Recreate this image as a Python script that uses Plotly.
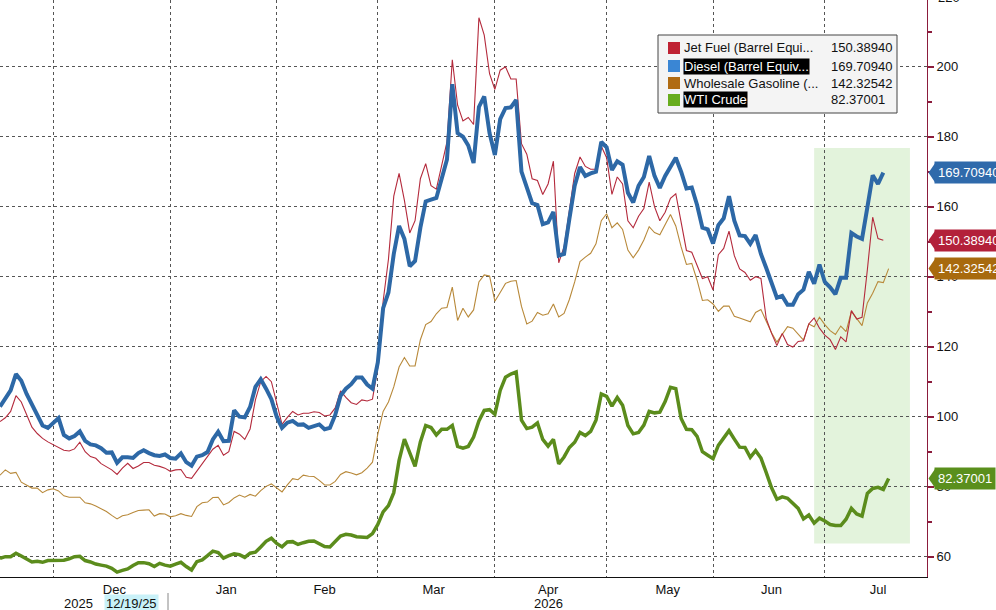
import pandas as pd
import plotly.graph_objects as go

# US market holidays skipped by the daily series
holidays = ['2025-11-27', '2025-12-25', '2026-01-01', '2026-01-19', '2026-02-16',
            '2026-04-03', '2026-05-25', '2026-06-19', '2026-07-03']

# Daily closes, Nov 14 2025 onwards (trading days)
jet_fuel = [
    98.6, 99.7, 101.5, 106.0, 104.2, 100.7, 97.0, 95.2, 93.8, 92.8,
    92.0, 91.2, 90.4, 90.2, 90.8, 92.7, 90.0, 88.6, 88.1, 86.6,
    85.8, 84.8, 83.5, 85.3, 86.7, 85.2, 85.9, 86.9, 86.9, 86.1,
    85.8, 85.3, 84.4, 84.8, 84.9, 82.7, 82.4, 84.5, 86.6, 88.5,
    90.7, 91.8, 89.0, 90.0, 95.8, 95.0, 93.5, 96.5, 104.8, 110.0,
    111.5, 110.0, 103.5, 97.8, 99.8, 101.5, 100.5, 101.0, 101.0, 101.4,
    101.2, 100.2, 100.5, 102.5, 107.4, 105.5, 104.0, 103.5, 104.8, 104.5,
    105.0, 114.0, 133.0, 145.0, 163.0, 169.5, 161.8, 152.5, 156.0, 168.0,
    172.3, 166.0, 165.0, 172.0, 178.5, 202.0, 189.0, 184.5, 185.5, 183.5,
    214.0, 209.0, 198.0, 193.5, 199.0, 200.0, 196.5, 196.5, 178.0, 175.0,
    168.0, 167.5, 163.5, 166.5, 173.0, 144.0, 148.5, 159.0, 169.5, 174.2,
    171.5, 170.7, 170.7, 177.3, 174.0, 163.5, 168.5, 166.5, 156.0, 154.0,
    157.3, 159.5, 167.0, 160.0, 156.0, 158.4, 162.4, 163.7, 155.5, 147.5,
    147.0, 143.0, 139.5, 140.0, 136.2, 146.3, 148.1, 153.0, 146.0, 142.2,
    141.2, 139.0, 140.0, 139.5, 128.0, 123.8, 120.3, 123.8, 120.6, 119.9,
    121.5, 121.7, 126.5, 128.2, 125.3, 123.3, 122.0, 119.2, 122.8, 121.4,
    130.3, 127.9, 128.4, 142.0, 157.0, 150.9, 150.3894,
]

diesel = [
    102.9, 105.0, 107.5, 112.2, 110.3, 106.5, 103.3, 100.5, 97.5, 96.8,
    98.3, 99.6, 94.8, 93.8, 94.5, 95.8, 93.1, 92.1, 91.8, 91.0,
    89.7, 89.8, 86.8, 88.4, 88.4, 88.2, 89.6, 90.4, 89.6, 89.0,
    88.8, 89.2, 88.2, 88.0, 89.5, 87.0, 86.0, 88.6, 89.0, 89.9,
    93.5, 95.7, 93.0, 93.1, 101.8, 100.0, 99.8, 102.8, 108.5, 110.7,
    108.0, 105.0, 100.0, 96.8, 98.3, 98.8, 97.7, 97.8, 96.8, 97.2,
    97.8, 96.4, 96.8, 100.5, 106.0, 108.0, 109.3, 111.2, 111.2, 109.2,
    108.0, 115.5, 131.0, 135.5, 146.5, 154.5, 150.8, 143.0, 144.5, 154.0,
    161.5, 162.0, 162.5, 168.0, 173.5, 195.0, 181.0, 180.0, 177.5, 172.5,
    188.5, 191.5, 181.0, 174.8, 185.0, 188.2, 188.4, 190.5, 170.0, 165.5,
    161.0, 160.5, 155.0, 155.5, 158.5, 146.0, 146.5, 156.5, 166.0, 171.3,
    168.8, 169.5, 170.0, 178.5, 177.0, 170.5, 173.0, 172.0, 164.0, 161.2,
    166.0, 168.5, 174.5, 168.8, 165.4, 168.8, 171.6, 174.0, 170.0, 165.2,
    165.5, 160.5, 154.0, 153.5, 149.5, 154.7, 156.7, 163.0, 156.0, 151.8,
    151.6, 149.4, 151.9, 146.5, 142.5, 138.0, 134.0, 134.5, 132.0, 132.0,
    135.0, 136.3, 141.4, 138.0, 143.5, 138.5, 137.0, 135.0, 139.7, 139.7,
    152.5, 151.5, 150.8, 159.8, 169.0, 166.5, 169.7094,
]

gasoline = [
    83.3, 84.8, 83.8, 84.1, 81.3, 80.5, 79.6, 79.6, 78.3, 79.1,
    79.4, 78.8, 77.4, 77.0, 77.0, 77.0, 75.4, 75.1, 74.5, 73.7,
    72.9, 71.8, 70.8, 71.7, 72.0, 72.6, 73.2, 73.3, 73.4, 71.6,
    72.3, 72.2, 71.4, 71.7, 72.3, 71.8, 71.5, 74.3, 75.4, 75.6,
    76.9, 77.0, 74.8, 75.5, 76.8, 77.6, 77.0, 77.8, 77.3, 78.9,
    80.1, 80.8, 79.7, 78.5, 80.5, 82.3, 82.0, 83.3, 83.0, 82.9,
    81.8, 80.5, 80.5, 81.5, 83.5, 84.3, 83.9, 83.4, 84.0, 85.3,
    87.0, 95.0, 101.5, 104.2, 108.5, 114.2, 116.9, 114.5, 114.5, 122.0,
    126.3, 127.2, 129.4, 131.0, 131.2, 137.0, 127.5, 131.0, 128.5, 130.5,
    138.5, 140.5, 140.2, 133.0, 135.5, 138.1, 138.7, 138.9, 131.5, 126.5,
    127.3, 129.8, 129.0, 129.4, 132.2, 128.5, 129.5, 133.5, 138.5, 144.3,
    145.6, 146.7, 149.4, 156.0, 158.0, 154.0, 155.4, 153.5, 147.6, 145.4,
    147.6, 150.5, 154.3, 152.6, 152.0, 154.8, 157.8, 154.5, 148.5, 143.5,
    143.8, 139.0, 133.2, 133.4, 132.2, 130.1, 131.6, 131.6, 128.7, 128.2,
    127.7, 127.1, 129.8, 130.6, 127.3, 124.0, 121.3, 123.5, 125.7, 125.3,
    123.6, 121.9, 126.5, 125.7, 128.4, 126.3, 124.6, 123.5, 125.9, 124.3,
    130.1, 128.0, 126.0, 132.5, 135.3, 138.6, 138.3, 142.32542,
]

wti = [
    59.5, 60.0, 60.0, 61.0, 60.2, 59.4, 58.5, 58.7, 58.4, 58.9,
    59.0, 59.1, 59.0, 59.4, 60.0, 60.1, 58.9, 58.5, 57.9, 57.6,
    57.3, 56.7, 55.6, 56.1, 56.5, 57.5, 58.3, 58.3, 58.0, 57.2,
    58.1, 57.6, 57.3, 57.9, 58.4, 57.2, 56.2, 58.6, 59.1, 60.3,
    61.6, 61.2, 59.6, 60.3, 60.8, 60.6, 59.8, 61.0, 61.3, 62.8,
    64.4, 65.3, 63.8, 62.8, 64.2, 64.3, 63.5, 64.0, 64.4, 64.5,
    63.7, 62.9, 62.8, 64.2, 65.9, 66.4, 66.2, 65.7, 65.5, 65.5,
    66.6, 69.2, 72.8, 74.6, 78.3, 87.5, 93.6, 90.0, 85.8, 92.8,
    97.5, 96.9, 94.8, 96.4, 96.4, 97.5, 91.5, 91.0, 91.5, 94.2,
    98.8, 101.8, 102.0, 100.7, 107.5, 111.3, 112.2, 112.8, 99.0, 96.6,
    97.0, 98.2, 93.5, 91.6, 93.5, 86.5, 88.5, 91.2, 92.7, 95.5,
    94.6, 95.8, 99.0, 106.5, 105.8, 103.0, 105.5, 103.3, 97.5, 95.1,
    95.5, 97.6, 101.5, 101.1, 101.3, 104.3, 108.4, 108.0, 99.5, 96.4,
    96.3, 94.4, 90.0, 89.0, 88.0, 91.8, 93.8, 96.0, 93.6, 91.3,
    91.2, 88.4, 90.3, 88.2, 84.0, 79.7, 76.4, 77.1, 76.7, 75.1,
    73.8, 70.8, 71.9, 69.6, 71.0, 70.2, 69.2, 68.9, 68.9, 70.7,
    73.8, 72.2, 71.6, 78.1, 79.5, 79.8, 79.2, 82.37001,
]

names = ['Jet Fuel (Barrel Equi...', 'Diesel (Barrel Equiv...',
         'Wholesale Gasoline (...', 'WTI Crude']
last_labels = ['150.38940', '169.70940', '142.32542', '82.37001']
series = [jet_fuel, diesel, gasoline, wti]

line_colors = ['#b42a3c', '#2d68a6', '#b8893a', '#5b8c1c']
line_widths = [1.1, 4, 1.1, 3.5]
swatch_colors = ['#bf2233', '#3a86d4', '#b06b12', '#68ad1d']
tag_colors = ['#b3213a', '#2f6aab', '#a86a0e', '#5a8f1c']

font = 'Liberation Sans'
W, H = 996, 610
L, R, T, B = 0, 69, 0, 33
pw, ph = W - L - R, H - T - B


def px(x):
    return x / pw


def py(y):
    return 1 - y / ph


fig = go.Figure()

# Draw thin lines first, thick ones on top like the original
for k in [2, 0, 3, 1]:
    dates = pd.bdate_range('2025-11-14', periods=len(series[k]), freq='C', holidays=holidays)
    fig.add_trace(go.Scatter(
        x=dates, y=series[k], mode='lines', name=names[k],
        line=dict(color=line_colors[k], width=line_widths[k]),
        showlegend=False,
    ))

shapes = []
# highlight window
shapes.append(dict(type='rect', xref='x', yref='y', x0='2026-06-29', x1='2026-07-24',
                   y0=63.8, y1=176.8, fillcolor='#e3f3dc', line=dict(width=0), layer='below'))

# legend box
shapes.append(dict(type='rect', xref='paper', yref='paper', x0=px(658), x1=px(897),
                   y0=py(113), y1=py(35), fillcolor='#f4f4f4',
                   line=dict(color='#444', width=1)))

annotations = []
rows = [48, 66, 83, 100]
for k in range(4):
    yc = py(rows[k])
    shapes.append(dict(type='rect', xref='paper', yref='paper', x0=px(668), x1=px(680),
                       y0=yc - 6 / ph, y1=yc + 6 / ph, fillcolor=swatch_colors[k],
                       line=dict(width=0)))
    hl = k in (1, 3)
    annotations.append(dict(xref='paper', yref='paper', x=px(683), y=yc, xanchor='left',
                            yanchor='middle', text=names[k], showarrow=False,
                            bgcolor='black' if hl else 'rgba(0,0,0,0)', borderpad=0,
                            font=dict(family=font, size=13, color='white' if hl else '#111')))
    annotations.append(dict(xref='paper', yref='paper', x=px(829), y=yc, xanchor='left',
                            yanchor='middle', text=last_labels[k], showarrow=False,
                            font=dict(family=font, size=13, color='#111')))
    # value tag on the axis, with a small pointer towards the axis
    v = series[k][-1]
    annotations.append(dict(xref='paper', yref='y', x=1, y=v, xanchor='left',
                            yanchor='middle', xshift=7, text=last_labels[k], showarrow=False,
                            bgcolor=tag_colors[k], borderpad=3,
                            font=dict(family=font, size=13, color='white')))
    x_tip, x_base = 1 + 1.5 / pw, 1 + 8 / pw
    shapes.append(dict(type='path', xref='paper', yref='y',
                       path=f'M {x_tip} {v} L {x_base} {v + 2.7} L {x_base} {v - 2.7} Z',
                       fillcolor=tag_colors[k], line=dict(width=0)))

# year row under the month labels
for txt, xc, bg in [('2025', 78, None), ('12/19/25', 131, '#c9f1f8'), ('2026', 548, None)]:
    annotations.append(dict(xref='paper', yref='paper', x=px(xc), y=0, xanchor='center',
                            yanchor='top', yshift=-17, text=txt, showarrow=False,
                            bgcolor=bg or 'rgba(0,0,0,0)', borderpad=1,
                            font=dict(family=font, size=13, color='#111')))
# top tick label, half cut by the page edge
annotations.append(dict(xref='paper', yref='paper', x=1, y=py(-3), xanchor='left',
                        yanchor='middle', xshift=9, text='220', showarrow=False,
                        font=dict(family=font, size=13, color='#111')))
shapes.append(dict(type='line', xref='paper', yref='paper', x0=px(168), x1=px(168),
                   y0=-(593 - ph) / ph, y1=-0.07, line=dict(color='#888', width=1)))

fig.update_layout(
    width=W, height=H,
    margin=dict(l=L, r=R, t=T, b=B),
    plot_bgcolor='white', paper_bgcolor='white',
    font=dict(family=font, size=13, color='#111'),
    shapes=shapes, annotations=annotations,
    hovermode='x unified',
)

fig.update_xaxes(
    range=['2025-11-14', '2026-07-29 05:00'],
    rangebreaks=[dict(bounds=['sat', 'mon']), dict(values=holidays)],
    dtick='M1', tickformat='%b', ticklabelmode='period',
    ticks='', tickfont=dict(size=13),
    minor=dict(dtick='M1', ticks='outside', ticklen=5, tickcolor='#111', showgrid=False),
    showline=True, linecolor='#111', linewidth=1,
    showgrid=True, gridcolor='#555', griddash='dot', gridwidth=1,
    zeroline=False,
)

fig.update_yaxes(
    side='right', range=[54.2, 219.06], dtick=20, tick0=60,
    ticks='outside', ticklen=6, tickwidth=2, tickcolor='#8b1c3c',
    minor=dict(dtick=10, ticks='outside', ticklen=4, tickcolor='#8b1c3c', showgrid=False),
    showline=True, linecolor='#8b1c3c', linewidth=1,
    showgrid=True, gridcolor='#555', griddash='dot', gridwidth=1,
    zeroline=False,
)

fig.write_html('out.html', config={'displayModeBar': False},
               post_script="document.body.style.margin='0px';")
